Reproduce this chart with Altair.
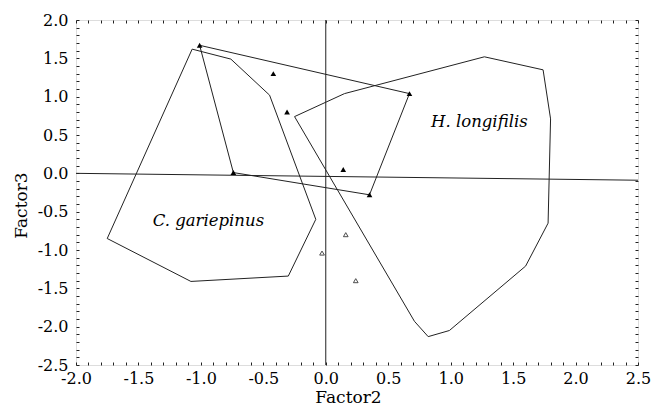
import altair as alt
import pandas as pd

# ---- data ----
# C. gariepinus hull
cg_x = [-1.75, -1.07, -0.76, -0.45, -0.08, -0.30, -1.08, -1.75]
cg_y = [-0.85, 1.62, 1.49, 1.02, -0.60, -1.34, -1.41, -0.85]
# H. longifilis hull
hl_x = [-0.25, 0.15, 1.27, 1.74, 1.80, 1.78, 1.60, 0.99, 0.82, 0.71, -0.25]
hl_y = [0.74, 1.04, 1.52, 1.35, 0.71, -0.65, -1.21, -2.05, -2.13, -1.93, 0.74]
# hull of the filled-triangle group
hy_x = [-1.01, 0.67, 0.35, -0.74, -1.01]
hy_y = [1.67, 1.04, -0.28, 0.01, 1.67]
# reference lines
h_x = [-2.0, 2.5]
h_y = [0.0, -0.09]
v_x = [0.0, 0.0]
v_y = [-2.5, 2.0]
# points
filled_x = [-1.01, 0.67, 0.35, -0.74, -0.42, -0.31, 0.14]
filled_y = [1.67, 1.04, -0.28, 0.01, 1.30, 0.80, 0.05]
open_x = [-0.03, 0.16, 0.24]
open_y = [-1.04, -0.80, -1.40]
# labels
lab_text = ["H. longifilis", "C. gariepinus"]
lab_x = [1.23, -0.94]
lab_y = [0.67, -0.62]

x_ticks = [round(-2.0 + 0.1 * i, 1) for i in range(46)]
y_ticks = [round(-2.5 + 0.1 * i, 1) for i in range(46)]

# ---- tables ----
rows = []
for name, xs, ys in [("cg", cg_x, cg_y), ("hl", hl_x, hl_y), ("hy", hy_x, hy_y),
                     ("h", h_x, h_y), ("v", v_x, v_y)]:
    for i, (a, b) in enumerate(zip(xs, ys)):
        rows.append({"grp": name, "ord": i, "x": a, "y": b})
lines_df = pd.DataFrame(rows)
filled_df = pd.DataFrame({"x": filled_x, "y": filled_y})
open_df = pd.DataFrame({"x": open_x, "y": open_y})
lab_df = pd.DataFrame({"t": lab_text, "x": lab_x, "y": lab_y})

FONT = "DejaVu Serif"
xs = alt.Scale(domain=[-2.0, 2.5], nice=False, zero=False)
ys = alt.Scale(domain=[-2.5, 2.0], nice=False, zero=False)
LBL = "abs(datum.value*2 - round(datum.value*2)) < 0.001 ? ((datum.value < -0.001 ? '-' : '') + format(abs(datum.value), '.1f')) : ''"

common = dict(grid=False, domain=False, tickSize=3, offset=-3, tickColor="#222",
              labelOverlap=False, labelFlush=False, labelBound=False)

x_axis = alt.Axis(orient="bottom", values=x_ticks, labelExpr=LBL, labelFont=FONT,
                  labelFontSize=16, labelColor="black", labelPadding=5,
                  title="Factor2", titleFont=FONT, titleFontSize=17,
                  titleFontWeight="normal", titleColor="black", titlePadding=3,
                  titleX=272, **common)
y_axis = alt.Axis(orient="left", values=y_ticks, labelExpr=LBL, labelFont=FONT,
                  labelFontSize=16, labelColor="black", labelPadding=8,
                  title="Factor3", titleFont=FONT, titleFontSize=17,
                  titleFontWeight="normal", titleColor="black", titlePadding=7,
                  titleY=185, **common)
x_top = alt.Axis(orient="top", values=x_ticks, labels=False, title=None, **common)
y_right = alt.Axis(orient="right", values=y_ticks, labels=False, title=None, **common)

lines = alt.Chart(lines_df).mark_line(color="#222", strokeWidth=1).encode(
    x=alt.X("x:Q", scale=xs, axis=x_axis),
    y=alt.Y("y:Q", scale=ys, axis=y_axis),
    detail="grp:N",
    order="ord:Q",
)

filled = alt.Chart(filled_df).mark_point(shape="triangle-up", filled=True,
                                         color="black", size=32, opacity=1).encode(
    x=alt.X("x:Q", scale=xs, axis=x_top),
    y=alt.Y("y:Q", scale=ys, axis=y_right),
)

opens = alt.Chart(open_df).mark_point(shape="triangle-up", filled=False,
                                      color="black", size=22, strokeWidth=1).encode(
    x=alt.X("x:Q", scale=xs, axis=None),
    y=alt.Y("y:Q", scale=ys, axis=None),
)

labels = alt.Chart(lab_df).mark_text(font=FONT, fontSize=16.5, fontStyle="italic",
                                     color="black", baseline="middle").encode(
    x=alt.X("x:Q", scale=xs, axis=None),
    y=alt.Y("y:Q", scale=ys, axis=None),
    text="t:N",
)

chart = alt.layer(lines, filled, opens, labels).resolve_axis(
    x="independent", y="independent"
).properties(
    width=562, height=345,
    autosize=alt.AutoSizeParams(type="none"),
    padding={"left": 68, "top": 12, "right": 16, "bottom": 47},
).configure_view(stroke="#222", strokeWidth=1).configure(background="white")

chart.save("out.html", embed_options={"renderer": "svg", "actions": False})
